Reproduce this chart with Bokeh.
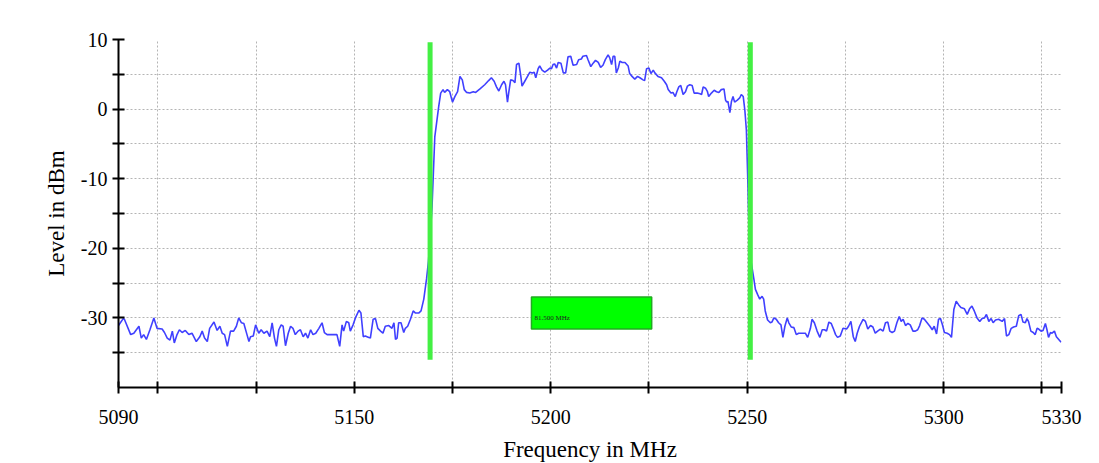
from bokeh.plotting import figure
from bokeh.models import Range1d, FixedTicker, Label, BoxAnnotation
from bokeh.embed import file_html
from bokeh.resources import INLINE

# ---- data ----
freq_mhz = [
    5090.0, 5091.2, 5091.5, 5093.1, 5093.9, 5095.2, 5095.8, 5096.4, 5097.1, 5098.0,
    5099.0, 5099.8, 5101.1, 5101.7, 5102.4, 5103.1, 5103.7, 5104.2, 5104.9, 5105.5,
    5106.2, 5107.0, 5107.9, 5108.7, 5109.8, 5110.7, 5111.3, 5111.9, 5112.6, 5113.2,
    5114.3, 5115.1, 5115.8, 5116.4, 5117.0, 5117.7, 5118.5, 5119.3, 5120.0, 5120.6,
    5121.3, 5121.9, 5122.7, 5123.2, 5123.6, 5124.3, 5124.9, 5125.7, 5126.3, 5127.0,
    5127.8, 5128.5, 5129.1, 5129.7, 5130.2, 5130.8, 5131.4, 5131.9, 5132.5, 5133.2,
    5133.8, 5134.4, 5135.0, 5135.7, 5136.3, 5137.0, 5137.6, 5138.2, 5138.9, 5139.5,
    5140.2, 5141.0, 5141.8, 5142.4, 5143.1, 5143.9, 5144.8, 5145.6, 5146.3, 5146.9,
    5147.3, 5148.0, 5148.6, 5149.0, 5149.7, 5150.3, 5151.2, 5151.7, 5152.3, 5152.8,
    5153.7, 5154.1, 5154.8, 5155.4, 5156.0, 5156.7, 5157.3, 5157.9, 5158.8, 5159.6,
    5160.1, 5160.5, 5160.9, 5161.3, 5161.9, 5162.6, 5163.0, 5163.6, 5164.3, 5165.0,
    5165.6, 5166.4, 5167.0, 5167.7, 5168.4, 5168.9, 5169.8, 5170.5,
    5171.5, 5172.0, 5172.6, 5173.0, 5173.7, 5174.3, 5175.0, 5175.6, 5176.3, 5176.9,
    5177.5, 5178.0, 5178.6, 5179.4, 5180.3, 5180.9, 5182.0, 5183.2, 5184.2, 5184.9,
    5185.6, 5186.2, 5186.8, 5187.5, 5188.1, 5188.5, 5189.0, 5189.3, 5189.8, 5190.4,
    5190.9, 5191.3, 5191.9, 5192.4, 5192.7, 5193.4, 5194.1, 5194.7, 5195.3, 5195.8,
    5196.2, 5196.8, 5197.2, 5197.8, 5198.5, 5199.2, 5199.8, 5200.2, 5200.6, 5201.0,
    5201.5, 5201.9, 5202.6, 5203.2, 5203.8, 5204.4, 5205.1, 5205.7, 5206.6, 5207.1,
    5207.8, 5208.2, 5209.1, 5209.5, 5210.2, 5210.8, 5211.4, 5212.1, 5212.7, 5213.3,
    5213.9, 5214.6, 5215.0, 5215.5, 5215.9, 5216.3, 5216.7, 5217.2, 5217.6, 5218.2,
    5218.9, 5219.7, 5220.1, 5220.7, 5221.4, 5222.1, 5222.7, 5223.5, 5223.9, 5224.4,
    5225.0, 5225.5, 5226.1, 5226.5, 5227.3, 5228.2, 5228.9, 5229.5, 5229.9, 5230.6,
    5231.1, 5231.7, 5232.1, 5232.6, 5233.1, 5233.7, 5234.3, 5234.8, 5235.4, 5236.0,
    5236.5, 5237.3, 5238.0, 5238.4, 5238.8, 5239.4, 5239.9, 5240.2, 5240.9, 5241.6,
    5242.2, 5242.8, 5243.4, 5244.1, 5244.5, 5244.8, 5245.1, 5245.6, 5246.0, 5246.4,
    5246.8, 5247.5, 5248.1, 5248.5, 5249.0, 5249.4, 5249.8, 5250.2, 5250.6,
    5251.7, 5252.1, 5252.7, 5253.2, 5253.8, 5254.2, 5254.6, 5255.2, 5255.9, 5256.3,
    5256.8, 5257.4, 5258.0, 5258.6, 5259.1, 5259.6, 5260.2, 5260.6, 5261.2, 5261.9,
    5262.5, 5263.1, 5264.0, 5264.8, 5265.4, 5266.1, 5266.5, 5267.1, 5267.8, 5268.5,
    5269.1, 5269.7, 5270.2, 5270.8, 5271.4, 5271.9, 5272.5, 5273.0, 5273.7, 5274.4,
    5275.3, 5275.8, 5276.4, 5277.0, 5277.5, 5278.0, 5278.6, 5279.5, 5280.1, 5280.7,
    5281.4, 5282.0, 5282.6, 5283.2, 5283.9, 5284.6, 5285.2, 5285.8, 5286.3, 5286.9,
    5287.5, 5288.1, 5288.7, 5289.2, 5289.7, 5290.3, 5290.9, 5291.5, 5292.2, 5292.8,
    5293.4, 5293.9, 5294.5, 5295.1, 5295.8, 5296.5, 5297.1, 5297.6, 5298.2, 5298.7,
    5299.2, 5299.7, 5300.2, 5300.9, 5301.5, 5302.0, 5302.6, 5303.2, 5303.8, 5304.4,
    5305.3, 5306.0, 5306.6, 5307.2, 5307.8, 5308.5, 5309.2, 5309.8, 5310.4, 5310.9,
    5311.5, 5312.1, 5312.6, 5313.2, 5314.0, 5314.9, 5315.5, 5316.0, 5316.6, 5317.2,
    5317.8, 5318.5, 5319.1, 5319.7, 5320.2, 5320.8, 5321.2, 5321.6, 5322.2, 5322.8,
    5323.3, 5323.8, 5324.2, 5324.8, 5325.3, 5325.9, 5326.3, 5326.7, 5327.2, 5327.6,
    5328.2, 5328.7, 5329.3, 5329.9,
]
level_dbm = [
    -31.1, -30.1, -30.2, -32.4, -32.2, -31.2, -32.9, -32.4, -33.1, -31.7,
    -30.0, -31.5, -31.6, -32.1, -32.9, -33.2, -31.9, -33.6, -32.4, -31.7,
    -32.1, -31.8, -32.4, -32.2, -33.4, -32.7, -31.9, -32.9, -33.4, -31.5,
    -30.6, -31.8, -31.2, -32.2, -32.4, -34.1, -31.9, -31.9, -31.2, -30.0,
    -30.7, -30.8, -32.4, -33.4, -32.7, -32.6, -31.0, -32.2, -31.7, -32.2,
    -31.9, -32.7, -30.7, -32.9, -34.1, -31.7, -31.0, -31.2, -34.0, -32.2,
    -31.2, -31.5, -32.4, -31.9, -31.7, -32.7, -32.2, -32.9, -31.7, -32.4,
    -32.2, -31.5, -30.7, -32.1, -32.4, -32.4, -32.4, -32.4, -34.1, -31.0,
    -31.9, -30.5, -30.7, -31.9, -31.0, -30.0, -28.9, -29.3, -32.7, -32.6,
    -32.8, -32.9, -30.2, -30.1, -31.5, -31.9, -32.2, -31.2, -31.1, -31.5,
    -30.7, -33.1, -32.9, -30.7, -30.7, -32.1, -31.5, -31.2, -30.2, -29.0,
    -29.3, -29.3, -29.0, -27.3, -24.4, -21.8, -14.0, -4.0,
    0.4, 2.3, 2.8, 2.4, 2.8, 2.5, 1.0, 1.8, 2.5, 4.7,
    4.2, 2.8, 2.4, 2.3, 2.5, 2.4, 2.9, 3.5, 4.1, 4.5,
    4.0, 3.2, 2.6, 3.5, 4.0, 3.5, 1.0, 2.3, 4.2, 4.1,
    3.8, 6.4, 6.6, 4.7, 3.3, 4.0, 4.7, 5.3, 5.2, 5.3,
    4.5, 5.8, 6.2, 5.6, 5.3, 5.6, 5.9, 5.8, 6.4, 6.5,
    5.9, 6.7, 6.6, 5.2, 5.2, 7.5, 7.6, 6.3, 6.4, 7.1,
    7.2, 7.6, 7.7, 7.1, 6.1, 6.6, 7.0, 6.7, 6.0, 6.3,
    7.1, 7.8, 7.4, 6.4, 7.6, 7.6, 5.2, 5.9, 6.9, 6.7,
    6.7, 6.2, 5.1, 4.7, 4.3, 4.7, 4.5, 4.2, 4.1, 5.8,
    5.9, 5.1, 5.6, 5.2, 4.7, 4.5, 4.0, 3.5, 2.8, 2.3,
    2.4, 1.8, 2.5, 3.2, 3.4, 2.1, 2.5, 3.3, 3.5, 3.4,
    2.3, 2.3, 2.2, 2.1, 3.2, 3.0, 2.5, 1.8, 2.3, 2.7,
    2.5, 2.4, 2.8, 2.9, 1.3, 1.0, 1.1, -0.5, 1.1, 1.8,
    1.0, 1.3, 1.6, 2.1, 1.8, -0.1, -3.0, -11.0, -20.5,
    -24.4, -25.9, -26.7, -27.3, -26.9, -27.3, -29.0, -30.3, -30.7, -30.6,
    -30.0, -30.2, -30.7, -31.0, -32.8, -31.2, -30.0, -30.7, -31.3, -31.4,
    -32.4, -32.2, -32.2, -32.2, -32.8, -31.5, -30.2, -30.7, -31.9, -32.8,
    -31.7, -31.7, -31.9, -30.6, -30.8, -31.5, -32.4, -32.8, -32.6, -31.5,
    -31.6, -31.2, -30.5, -32.7, -33.4, -32.2, -31.2, -30.2, -30.5, -31.6,
    -31.1, -31.3, -32.2, -31.9, -31.6, -31.9, -30.7, -30.6, -31.9, -32.1,
    -31.9, -30.7, -29.8, -30.5, -30.2, -31.1, -30.8, -31.0, -31.9, -31.9,
    -31.7, -31.1, -30.0, -30.2, -30.7, -31.2, -31.7, -31.2, -32.3, -30.2,
    -30.1, -31.0, -32.1, -32.2, -32.4, -32.8, -28.8, -27.6, -28.1, -28.5,
    -28.7, -29.5, -28.7, -28.3, -29.0, -30.0, -30.5, -30.1, -30.0, -29.5,
    -30.5, -30.1, -30.7, -30.3, -30.2, -30.5, -30.1, -32.6, -32.4, -31.5,
    -31.3, -31.2, -29.7, -29.5, -30.6, -30.7, -30.1, -30.5, -31.9, -32.1,
    -32.4, -31.5, -31.6, -31.9, -31.8, -30.8, -31.7, -32.8, -32.1, -32.2,
    -31.9, -32.7, -33.1, -33.5,
]

marker_freq = [5169.3, 5250.8]          # bandwidth markers (MHz)
marker_level = [-36.0, 9.6]             # vertical extent of markers (dBm)
bw_box_freq = [5195.1, 5225.7]          # bandwidth info box (MHz)
bw_box_level = [-31.6, -27.0]           # (dBm)
bw_text = "81.500 MHz"

x_ticks = [5090, 5100, 5125, 5150, 5175, 5200, 5225, 5250, 5275, 5300, 5325, 5330]
x_tick_labels = {5090: "5090", 5150: "5150", 5200: "5200", 5250: "5250", 5300: "5300", 5330: "5330"}
y_ticks = [-35, -30, -25, -20, -15, -10, -5, 0, 5, 10]
y_tick_labels = {-30: "-30", -20: "-20", -10: "-10", 0: "0", 10: "10"}

FONT = "Liberation Serif"

p = figure(frame_width=943, frame_height=348,
           x_range=Range1d(5090, 5330), y_range=Range1d(-40, 10),
           output_backend="svg", toolbar_location=None,
           min_border_left=118, min_border_top=39, min_border_right=30, min_border_bottom=70,
           x_axis_label="Frequency in MHz", y_axis_label="Level in dBm")
p.outline_line_color = None
p.background_fill_color = "white"

# grids
p.xgrid.ticker = FixedTicker(ticks=x_ticks)
p.ygrid.ticker = FixedTicker(ticks=y_ticks)
for g in (p.xgrid, p.ygrid):
    g.grid_line_color = "#b4b4b4"
    g.grid_line_dash = "2 2"
    g.grid_line_width = 1

# axes
p.xaxis.ticker = FixedTicker(ticks=x_ticks)
p.xaxis.major_label_overrides = {t: x_tick_labels.get(t, "") for t in x_ticks}
p.yaxis.ticker = FixedTicker(ticks=y_ticks)
p.yaxis.major_label_overrides = {t: y_tick_labels.get(t, "") for t in y_ticks}
for ax in (p.xaxis, p.yaxis):
    ax.axis_line_width = 2
    ax.axis_line_color = "black"
    ax.major_tick_line_width = 2
    ax.major_tick_line_color = "black"
    ax.major_tick_in = 6
    ax.major_tick_out = 6
    ax.minor_tick_line_color = None
    ax.major_label_text_font = FONT
    ax.major_label_text_font_size = "20px"
    ax.major_label_text_color = "black"
    ax.axis_label_text_font = FONT
    ax.axis_label_text_font_size = "23px"
    ax.axis_label_text_font_style = "normal"
    ax.axis_label_text_color = "black"
p.xaxis.major_label_standoff = 16
p.yaxis.major_label_standoff = 5
p.xaxis.axis_label_standoff = 10
p.yaxis.axis_label_standoff = 9

# page frame (thin grey border of the original page)
p.add_layout(BoxAnnotation(left=7, right=3000, top=6, bottom=3000,
                           left_units="canvas", right_units="canvas",
                           top_units="canvas", bottom_units="canvas",
                           fill_color=None, fill_alpha=0, line_color="#b0b0b0",
                           line_width=2, line_alpha=1, level="underlay"))

# trace
p.line(freq_mhz, level_dbm, line_color="#4040ff", line_width=1.6)

# bandwidth markers
for f in marker_freq:
    p.segment(x0=[f], y0=[marker_level[0]], x1=[f], y1=[marker_level[1]],
              line_color="#44f044", line_width=5)

# bandwidth box
p.quad(left=[bw_box_freq[0]], right=[bw_box_freq[1]],
       bottom=[bw_box_level[0]], top=[bw_box_level[1]],
       fill_color="#00ff00", line_color="#22aa22", line_width=1.5)
p.add_layout(Label(x=bw_box_freq[0], y=(bw_box_level[0] + bw_box_level[1]) / 2,
                   x_offset=3, y_offset=-5, text=bw_text, text_font=FONT,
                   text_font_size="7px", text_color="#222222",
                   text_baseline="middle", text_align="left"))

open("out.html", "w").write(file_html(p, INLINE))
